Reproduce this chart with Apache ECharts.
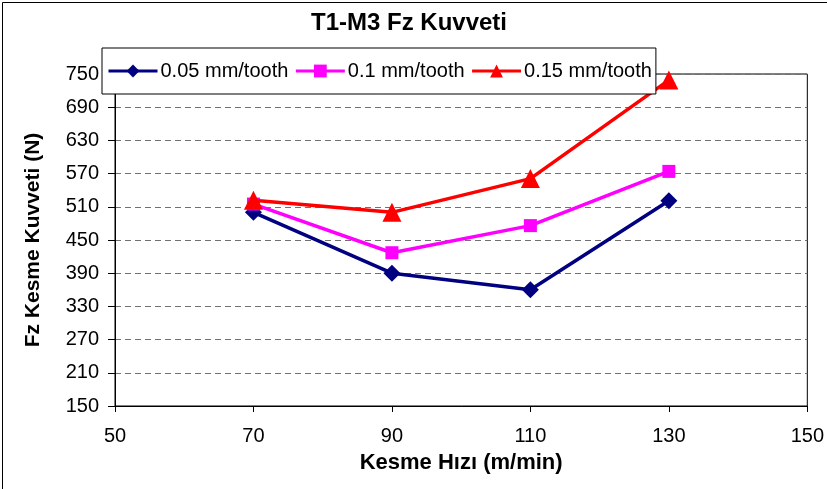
<!DOCTYPE html>
<html>
<head>
<meta charset="utf-8">
<script src="https://cdn.jsdelivr.net/npm/echarts@6/dist/echarts.min.js"></script>
<style>
html,body{margin:0;padding:0;background:#fff;}
#chart{width:827px;height:489px;}
</style>
</head>
<body>
<div id="chart"></div>
<script>
const xValues = [70, 90, 110, 130];
const seriesNames = ['0.05 mm/tooth', '0.1 mm/tooth', '0.15 mm/tooth'];
const s005 = [500, 390, 360, 521];
const s01 = [515, 427, 476, 574];
const s015 = [522, 500, 561, 739];
const xTicks = [50, 70, 90, 110, 130, 150];
const yTicks = [150, 210, 270, 330, 390, 450, 510, 570, 630, 690, 750];

const font = 'Liberation Sans, Arial, sans-serif';
const pair = (vals) => xValues.map((x, i) => [x, vals[i]]);

const chart = echarts.init(document.getElementById('chart'), null, {renderer: 'canvas'});
chart.setOption({
  animation: false,
  backgroundColor: '#fff',
  title: {
    text: 'T1-M3 Fz Kuvveti',
    left: 306,
    top: 6,
    textStyle: {fontFamily: font, fontSize: 24, fontWeight: 'bold', color: '#000'}
  },
  legend: {
    data: seriesNames,
    left: 102,
    top: 48,
    width: 551,
    height: 46,
    padding: [13, 4, 13, 5],
    borderColor: '#000',
    borderWidth: 1,
    backgroundColor: '#fff',
    itemWidth: 49,
    itemHeight: 16,
    itemGap: 6,
    z: 10,
    lineStyle: {width: 3},
    textStyle: {fontFamily: font, fontSize: 20, color: '#000', padding: [0, 0, 0, -2]}
  },
  grid: {
    left: 115, right: 18, top: 74, bottom: 83,
    show: true, borderColor: '#000', borderWidth: 1, backgroundColor: '#fff'
  },
  xAxis: {
    type: 'value',
    min: 50, max: 150, interval: 20,
    name: 'Kesme Hızı (m/min)',
    nameLocation: 'middle',
    nameGap: 46,
    nameTextStyle: {fontFamily: font, fontSize: 22, fontWeight: 'bold', color: '#000'},
    axisLine: {show: true, lineStyle: {color: '#000', width: 1}},
    axisTick: {show: true, length: 6, lineStyle: {color: '#000'}},
    axisLabel: {fontFamily: font, fontSize: 20, color: '#000', margin: 20,
      formatter: (v) => xTicks.includes(v) ? String(v) : ''},
    splitLine: {show: false}
  },
  yAxis: {
    type: 'value',
    min: 150, max: 750, interval: 60,
    name: 'Fz Kesme Kuvveti (N)',
    nameLocation: 'middle',
    nameGap: 71,
    nameRotate: 90,
    nameTextStyle: {fontFamily: font, fontSize: 21, fontWeight: 'bold', color: '#000'},
    axisLine: {show: true, lineStyle: {color: '#000', width: 1}},
    axisTick: {show: true, length: 7, lineStyle: {color: '#000'}},
    axisLabel: {fontFamily: font, fontSize: 20, color: '#000', margin: 16,
      formatter: (v) => yTicks.includes(v) ? String(v) : ''},
    splitLine: {show: true, lineStyle: {color: '#707070', type: [6, 4], width: 1}}
  },
  series: [
    {name: seriesNames[0], type: 'line', data: pair(s005), symbol: 'diamond', symbolSize: 17,
      itemStyle: {color: '#000080'}, lineStyle: {color: '#000080', width: 3.5}, z: 3},
    {name: seriesNames[1], type: 'line', data: pair(s01), symbol: 'rect', symbolSize: 13,
      itemStyle: {color: '#FF00FF'}, lineStyle: {color: '#FF00FF', width: 3.5}, z: 4},
    {name: seriesNames[2], type: 'line', data: pair(s015), symbol: 'triangle', symbolSize: 19,
      itemStyle: {color: '#FF0000'}, lineStyle: {color: '#FF0000', width: 3.5}, z: 5}
  ],
  graphic: [{
    type: 'rect', left: 0, top: 0, z: 100, silent: true,
    shape: {x: 0.5, y: 0.5, width: 825, height: 487},
    style: {fill: 'none', stroke: '#000', lineWidth: 1}
  }]
});
</script>
</body>
</html>
